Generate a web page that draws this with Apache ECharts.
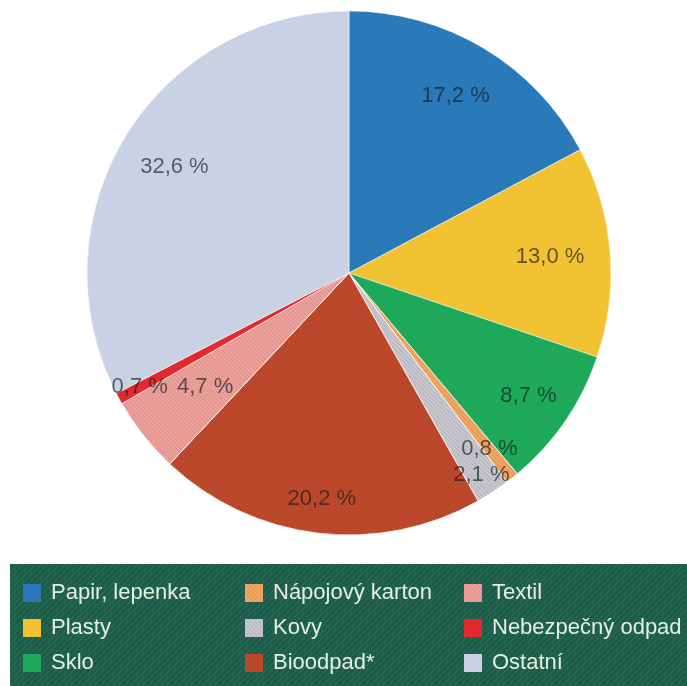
<!DOCTYPE html>
<html>
<head>
<meta charset="utf-8">
<script src="https://cdn.jsdelivr.net/npm/echarts@6/dist/echarts.min.js"></script>
<style>
  html, body { margin: 0; padding: 0; background: #ffffff; }
  #chart { width: 687px; height: 686px; }
</style>
</head>
<body>
<div id="chart"></div>
<script>
// Složení směsného komunálního odpadu (podíl v %)
const categories = [
  'Papir, lepenka', 'Plasty', 'Sklo',
  'Nápojový karton', 'Kovy', 'Bioodpad*',
  'Textil', 'Nebezpečný odpad', 'Ostatní'
];
const shares = [17.2, 13.0, 8.7, 0.8, 2.1, 20.2, 4.7, 0.7, 32.6];

// Styling
const sliceColors = ['#2a7aba', '#f1c232', '#1ea95a', '#f3a862', '#c9c7cf', '#c24a2c', '#f0a19b', '#e2292c', '#c9d2e4'];
const hatched = [false, false, false, true, true, true, true, false, false];
// radial position of each value label, as a fraction of the pie radius
const labelRadius = [0.79, 0.77, 0.83, 0.86, 0.92, 0.87, 0.70, 0.91, 0.78];

const CX = 349, CY = 273, R = 262;

const chart = echarts.init(document.getElementById('chart'), null, { renderer: 'canvas' });

// diagonal stripe texture for the legend panel
function stripeCanvas() {
  const c = document.createElement('canvas');
  c.width = 6; c.height = 6;
  const g = c.getContext('2d');
  g.fillStyle = '#1e5d49';
  g.fillRect(0, 0, 6, 6);
  g.strokeStyle = 'rgba(120,170,140,0.22)';
  g.lineWidth = 1;
  g.beginPath();
  g.moveTo(-1, 7); g.lineTo(7, -1);
  g.moveTo(-1, 1); g.lineTo(1, -1);
  g.moveTo(5, 7); g.lineTo(7, 5);
  g.stroke();
  return c;
}

const hatchDecal = {
  color: 'rgba(0,0,0,0.10)',
  dashArrayX: [1, 0],
  dashArrayY: [1, 2],
  rotation: Math.PI / 4
};

const pieData = categories.map((name, i) => ({
  name: name,
  value: shares[i],
  itemStyle: Object.assign(
    { color: sliceColors[i] },
    hatched[i] ? { decal: hatchDecal } : {}
  )
}));

function legendFor(names, left) {
  return {
    orient: 'vertical',
    left: left,
    top: 582,
    padding: 0,
    itemWidth: 18,
    itemHeight: 18,
    itemGap: 13,
    icon: 'rect',
    selectedMode: false,
    itemStyle: { borderWidth: 0 },
    data: names,
    textStyle: {
      color: '#e4f0e2',
      fontFamily: '"Liberation Sans", Arial, sans-serif',
      fontSize: 22,
      padding: [0, 0, 0, 5]
    }
  };
}

const option = {
  backgroundColor: '#ffffff',
  animation: false,
  graphic: [{
    type: 'rect',
    z: -10,
    shape: { x: 10, y: 564, width: 677, height: 122 },
    style: { fill: { image: stripeCanvas(), repeat: 'repeat' } }
  }],
  legend: [
    legendFor(categories.slice(0, 3), 23),
    legendFor(categories.slice(3, 6), 245),
    legendFor(categories.slice(6, 9), 464)
  ],
  series: [{
    type: 'pie',
    center: [CX, CY],
    radius: [0, R],
    startAngle: 90,
    clockwise: true,
    avoidLabelOverlap: false,
    itemStyle: { borderColor: 'rgba(255,255,255,0.5)', borderWidth: 1 },
    label: {
      show: true,
      position: 'inside',
      formatter: p => p.value.toFixed(1).replace('.', ',') + ' %',
      color: 'rgba(22,24,34,0.66)',
      fontFamily: '"Liberation Sans", Arial, sans-serif',
      fontSize: 22
    },
    labelLine: { show: false },
    emphasis: { disabled: true },
    labelLayout: function (p) {
      const lr = p.labelRect;
      const mx = lr.x + lr.width / 2 - CX;
      const my = lr.y + lr.height / 2 - CY;
      const len = Math.sqrt(mx * mx + my * my) || 1;
      const r = labelRadius[p.dataIndex] * R;
      return { x: CX + mx / len * r, y: CY + my / len * r, align: 'center', verticalAlign: 'middle' };
    },
    data: pieData
  }]
};

chart.setOption(option);
</script>
</body>
</html>
